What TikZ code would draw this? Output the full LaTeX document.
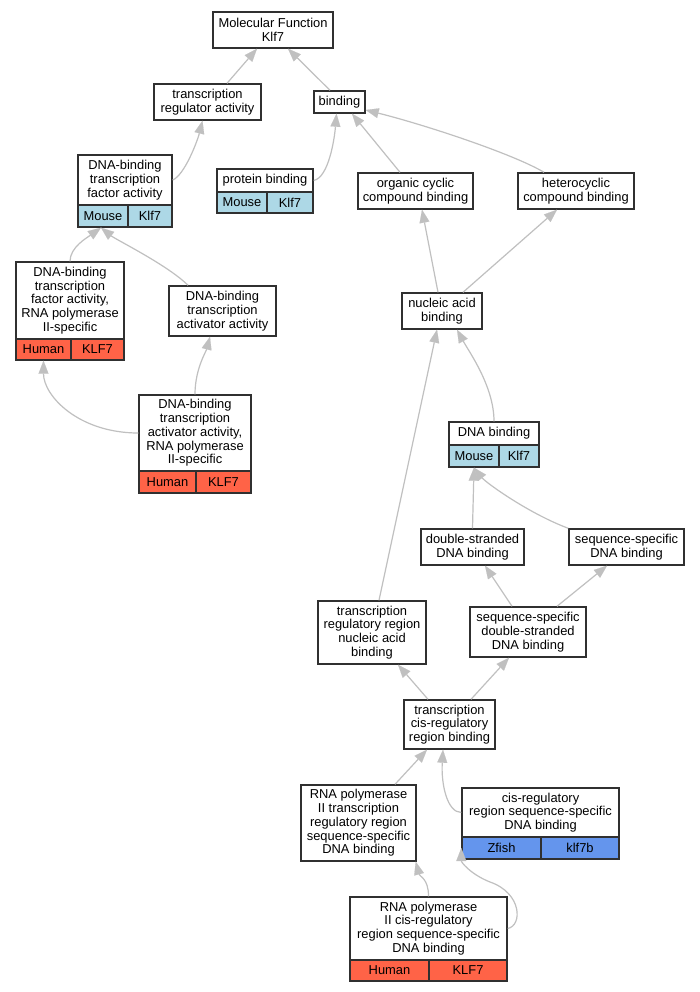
\documentclass[tikz,border=0pt]{standalone}
\usepackage{fontspec}
\setmainfont{Liberation Sans}
\usetikzlibrary{arrows.meta}
\definecolor{mousec}{HTML}{ADD8E6}
\definecolor{humanc}{HTML}{FF6347}
\definecolor{zfishc}{HTML}{6495ED}
\definecolor{edgegray}{HTML}{C0C0C0}
\definecolor{bordc}{HTML}{303030}
\newcommand{\gofont}{\fontsize{12.9}{13.8}\selectfont}
\newcommand{\gbox}[6]{\node[gobox, minimum width={(#4-#2)*1pt}, minimum height={(#5-#3)*1pt}] (#1) at ({(#2+#4)/2},{(#3+#5)/2}) {#6};}
\newcommand{\gcell}[7]{\node[gocell, fill=#6, minimum width={(#4-#2)*1pt}, minimum height={(#5-#3)*1pt}] (#1) at ({(#2+#4)/2},{(#3+#5)/2}) {#7};}
\tikzset{
  gobox/.style={draw=bordc, line width=1.4pt, fill=white, align=center, inner sep=0pt, font=\gofont},
  gocell/.style={draw=bordc, line width=1.4pt, inner sep=0pt, font=\gofont},
  goedge/.style={draw=edgegray, line width=1.2pt, -{Triangle[length=13pt,width=10pt,fill=edgegray,line width=0.1pt]}},
}
\begin{document}
\begin{tikzpicture}[x=1pt,y=-1pt]
\useasboundingbox[fill=white] (0,0) rectangle (700,992);
% nodes
\gbox{mf}{213}{12}{333}{48}{Molecular Function\\Klf7}
\gbox{tra}{154}{84}{261}{120}{transcription\\regulator activity}
\gbox{bind}{314}{91}{365}{113}{binding}
\gbox{tfa}{78}{155}{172}{205}{DNA-binding\\transcription\\factor activity}
\gcell{tfaA}{78}{205}{128}{227}{mousec}{Mouse}
\gcell{tfaB}{128}{205}{172}{227}{mousec}{Klf7}
\gbox{prot}{217}{169}{313}{192}{protein binding}
\gcell{protA}{217}{192}{267}{213}{mousec}{Mouse}
\gcell{protB}{267}{192}{313}{213}{mousec}{Klf7}
\gbox{occ}{358}{173}{473}{209}{organic cyclic\\compound binding}
\gbox{het}{518}{173}{634}{209}{heterocyclic\\compound binding}
\gbox{tfp}{16}{262}{124}{339}{DNA-binding\\transcription\\factor activity,\\RNA polymerase\\II-specific}
\gcell{tfpA}{16}{339}{71}{360}{humanc}{Human}
\gcell{tfpB}{71}{339}{124}{360}{humanc}{KLF7}
\gbox{tact}{169}{286}{276}{336}{DNA-binding\\transcription\\activator activity}
\gbox{tactp}{139}{395}{251}{471}{DNA-binding\\transcription\\activator activity,\\RNA polymerase\\II-specific}
\gcell{tactpA}{139}{471}{196}{493}{humanc}{Human}
\gcell{tactpB}{196}{471}{251}{493}{humanc}{KLF7}
\gbox{nab}{402}{293}{482}{329}{nucleic acid\\binding}
\gbox{dnab}{449}{422}{539}{445}{DNA binding}
\gcell{dnabA}{449}{445}{499}{467}{mousec}{Mouse}
\gcell{dnabB}{499}{445}{539}{467}{mousec}{Klf7}
\gbox{ds}{421}{529}{524}{565}{double-stranded\\DNA binding}
\gbox{ss}{569}{529}{684}{565}{sequence-specific\\DNA binding}
\gbox{trr}{318}{601}{426}{664}{transcription\\regulatory region\\nucleic acid\\binding}
\gbox{ssds}{470}{607}{586}{657}{sequence-specific\\double-stranded\\DNA binding}
\gbox{cis}{404}{700}{495}{749}{transcription\\cis-regulatory\\region binding}
\gbox{pol}{301}{785}{416}{861}{RNA polymerase\\II transcription\\regulatory region\\sequence-specific\\DNA binding}
\gbox{crs}{462}{788}{619}{837}{cis-regulatory\\region sequence-specific\\DNA binding}
\gcell{crsA}{462}{837}{541}{859}{zfishc}{Zfish}
\gcell{crsB}{541}{837}{619}{859}{zfishc}{klf7b}
\gbox{pcr}{350}{897}{507}{960}{RNA polymerase\\II cis-regulatory\\region sequence-specific\\DNA binding}
\gcell{pcrA}{350}{960}{429}{981}{humanc}{Human}
\gcell{pcrB}{429}{960}{507}{981}{humanc}{KLF7}
% edges
\draw[goedge] ([xshift=19.5pt]tra.north) -- ([xshift=-16pt]mf.south);
\draw[goedge] ([xshift=-9.5pt]bind.north) -- ([xshift=15pt]mf.south);
\draw[goedge] (tfa.east) .. controls +(12,-5) and +(-5,20) .. ([xshift=-5pt]tra.south);
\draw[goedge] (prot.east) .. controls +(15,-3) and +(-2,25) .. ([xshift=-3pt]bind.south);
\draw[goedge] ([xshift=-15.5pt]occ.north) -- ([xshift=12.5pt]bind.south);
\draw[goedge] ([xshift=-32pt]het.north) .. controls +(-30,-18) and +(60,15) .. ([yshift=-8pt]bind.east);
\draw[goedge] ([xshift=-4pt]nab.north) -- ([xshift=6.5pt]occ.south);
\draw[goedge] ([xshift=21pt]nab.north) -- ([xshift=-19pt]het.south);
\draw[goedge] (tfp.north) .. controls +(0,-14) and +(-14,10) .. ([xshift=-2pt]tfaA.south);
\draw[goedge] ([xshift=-34.5pt]tact.north) .. controls +(-20,-20) and +(15,12) .. ([xshift=-2pt]tfaA.south);
\draw[goedge] (tactp.west) .. controls +(-60,0) and +(0,35) .. (tfpA.south);
\draw[goedge] (tactp.north) .. controls +(0,-25) and +(-4,15) .. ([xshift=-12.5pt]tact.south);
\draw[goedge] (dnab.north) .. controls +(0,-35) and +(12,22) .. ([xshift=15pt]nab.south);
\draw[goedge] ([xshift=7pt]trr.north) -- ([xshift=-5pt]nab.south);
\draw[goedge] (ds.north) -- (dnabA.south);
\draw[goedge] (ss.north west) .. controls +(-40,-15) and +(12,15) .. (dnabA.south);
\draw[goedge] ([xshift=-16pt]ssds.north) -- ([xshift=12.5pt]ds.south);
\draw[goedge] ([xshift=29pt]ssds.north) -- ([xshift=-19.5pt]ss.south);
\draw[goedge] ([xshift=-21.5pt]cis.north) -- ([xshift=26pt]trr.south);
\draw[goedge] ([xshift=21.5pt]cis.north) -- ([xshift=-19pt]ssds.south);
\draw[goedge] ([xshift=36.5pt]pol.north) -- ([xshift=-22.5pt]cis.south);
\draw[goedge] (crs.west) .. controls +(-14,0) and +(-2,35) .. ([xshift=-6.5pt]cis.south);
\draw[goedge] (pcr.north) .. controls +(0,-18) and +(4,15) .. ([xshift=-1pt]pol.south east);
\coordinate (loopmid) at (490,882);
\draw[goedge] (pcr.east) .. controls +(15,-3) and +(32,11) .. (loopmid) .. controls +(-20,-8) and +(0,14) .. (crsA.west);
\end{tikzpicture}
\end{document}
